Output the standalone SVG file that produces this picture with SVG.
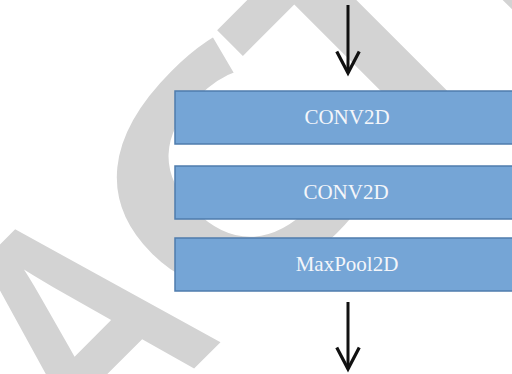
<svg xmlns="http://www.w3.org/2000/svg" width="512" height="374" viewBox="0 0 512 374">
  <defs>
    <style>
      .wm { font-family: "Liberation Sans", Arial, sans-serif; font-weight: bold; font-size: 327px; fill: #d3d3d3; }
      .layer rect { fill: #75a5d6; stroke: #4f7cad; stroke-width: 1.5; }
      .layer text { font-family: "Liberation Serif", "Times New Roman", serif; font-size: 21px; fill: #f4f6fa; text-anchor: middle; }
      .flow { stroke: #111111; stroke-width: 3; fill: none; marker-end: url(#arrow); }
    </style>
    <marker id="arrow" markerUnits="userSpaceOnUse" markerWidth="30" markerHeight="30" viewBox="-24 -14 28 28" refX="0" refY="0" orient="auto">
      <path d="M-20,-10.5 L0,0 L-20,10.5" fill="none" stroke="#111111" stroke-width="3" stroke-linejoin="miter"/>
    </marker>
    <!-- trims the arms of the round C to leave a wide mouth -->
    <clipPath id="c-mouth" clipPathUnits="userSpaceOnUse">
      <polygon points="-234,-300 79,-300 18,0 79,300 -234,300"/>
    </clipPath>
  </defs>

  <rect width="512" height="374" fill="#ffffff"/>

  <!-- background stamp, set on a 45 degree slant; A is drawn narrower and C wider -->
  <g id="watermark">
    <text class="wm" transform="translate(252,148) rotate(-45)" x="-1276 -1040 -822 -622" y="117">RETR</text>
    <text class="wm" transform="translate(252,148) rotate(-45) scale(0.8,1)" x="-427" y="115">A</text>
    <text class="wm" transform="translate(252,148) rotate(-45) scale(1.28,1)" x="-127" y="117" clip-path="url(#c-mouth)">C</text>
    <text class="wm" transform="translate(252,148) rotate(-45)" x="55 260 478" y="117">TED</text>
  </g>

  <g id="conv2d-1" class="layer">
    <rect x="175" y="91" width="346" height="53"/>
    <text x="347" y="123.5">CONV2D</text>
  </g>
  <g id="conv2d-2" class="layer">
    <rect x="175" y="166" width="346" height="53"/>
    <text x="346" y="198.5">CONV2D</text>
  </g>
  <g id="maxpool2d" class="layer">
    <rect x="175" y="238" width="346" height="53"/>
    <text x="347" y="270.5">MaxPool2D</text>
  </g>

  <g id="connectors">
    <line class="flow" x1="348" y1="5" x2="348" y2="73"/>
    <line class="flow" x1="348" y1="302" x2="348" y2="369"/>
  </g>
</svg>
